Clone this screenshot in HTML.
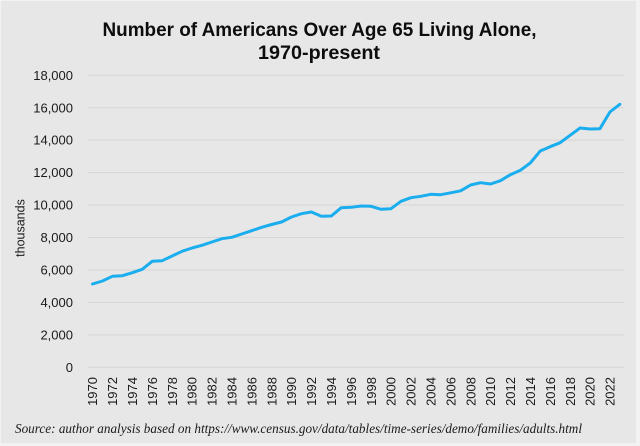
<!DOCTYPE html>
<html>
<head>
<meta charset="utf-8">
<style>
  html, body { margin: 0; padding: 0; background: #f2f2f2; }
  body { width: 640px; height: 446px; overflow: hidden; }
  svg { display: block; }
</style>
</head>
<body>
<svg width="640" height="446" viewBox="0 0 640 446" xmlns="http://www.w3.org/2000/svg">
  <rect x="0" y="0" width="640" height="446" fill="#f2f2f2"/>
  <rect x="1" y="1" width="635" height="442" fill="#e7e7e7"/>

  <!-- Title -->
  <text x="319.5" y="36" text-anchor="middle" font-family="Liberation Sans, Arial, sans-serif" font-weight="bold" font-size="19.5" fill="#0d0d0d" textLength="434" lengthAdjust="spacingAndGlyphs">Number of Americans Over Age 65 Living Alone,</text>
  <text x="319" y="59" text-anchor="middle" font-family="Liberation Sans, Arial, sans-serif" font-weight="bold" font-size="19.5" fill="#0d0d0d" textLength="122" lengthAdjust="spacingAndGlyphs">1970-present</text>

  <!-- Gridlines -->
  <g stroke="#d6d6d6" stroke-width="1">
    <line x1="88" y1="367.3" x2="624" y2="367.3"/>
    <line x1="88" y1="334.85" x2="624" y2="334.85"/>
    <line x1="88" y1="302.4" x2="624" y2="302.4"/>
    <line x1="88" y1="269.95" x2="624" y2="269.95"/>
    <line x1="88" y1="237.5" x2="624" y2="237.5"/>
    <line x1="88" y1="205.05" x2="624" y2="205.05"/>
    <line x1="88" y1="172.6" x2="624" y2="172.6"/>
    <line x1="88" y1="140.15" x2="624" y2="140.15"/>
    <line x1="88" y1="107.7" x2="624" y2="107.7"/>
    <line x1="88" y1="75.25" x2="624" y2="75.25"/>
  </g>

  <!-- Y tick labels -->
  <g font-family="Liberation Sans, Arial, sans-serif" font-size="13" fill="#1a1a1a" text-anchor="end">
    <text x="73" y="372">0</text>
    <text x="73" y="339.5">2,000</text>
    <text x="73" y="307">4,000</text>
    <text x="73" y="274.5">6,000</text>
    <text x="73" y="242">8,000</text>
    <text x="73" y="209.5">10,000</text>
    <text x="73" y="177">12,000</text>
    <text x="73" y="144.7">14,000</text>
    <text x="73" y="112.3">16,000</text>
    <text x="73" y="79.8">18,000</text>
  </g>

  <!-- Y axis title -->
  <text transform="translate(24.5,228) rotate(-90)" text-anchor="middle" font-family="Liberation Sans, Arial, sans-serif" font-size="12.5" fill="#1a1a1a">thousands</text>

  <!-- X tick labels -->
  <g font-family="Liberation Sans, Arial, sans-serif" font-size="13" fill="#1a1a1a" text-anchor="end">
    <text transform="translate(97.2,377) rotate(-90)">1970</text>
    <text transform="translate(117.1,377) rotate(-90)">1972</text>
    <text transform="translate(137.0,377) rotate(-90)">1974</text>
    <text transform="translate(156.9,377) rotate(-90)">1976</text>
    <text transform="translate(176.8,377) rotate(-90)">1978</text>
    <text transform="translate(196.7,377) rotate(-90)">1980</text>
    <text transform="translate(216.6,377) rotate(-90)">1982</text>
    <text transform="translate(236.5,377) rotate(-90)">1984</text>
    <text transform="translate(256.4,377) rotate(-90)">1986</text>
    <text transform="translate(276.3,377) rotate(-90)">1988</text>
    <text transform="translate(296.2,377) rotate(-90)">1990</text>
    <text transform="translate(316.1,377) rotate(-90)">1992</text>
    <text transform="translate(336.0,377) rotate(-90)">1994</text>
    <text transform="translate(355.9,377) rotate(-90)">1996</text>
    <text transform="translate(375.8,377) rotate(-90)">1998</text>
    <text transform="translate(395.7,377) rotate(-90)">2000</text>
    <text transform="translate(415.6,377) rotate(-90)">2002</text>
    <text transform="translate(435.5,377) rotate(-90)">2004</text>
    <text transform="translate(455.4,377) rotate(-90)">2006</text>
    <text transform="translate(475.3,377) rotate(-90)">2008</text>
    <text transform="translate(495.2,377) rotate(-90)">2010</text>
    <text transform="translate(515.1,377) rotate(-90)">2012</text>
    <text transform="translate(535.0,377) rotate(-90)">2014</text>
    <text transform="translate(554.9,377) rotate(-90)">2016</text>
    <text transform="translate(574.8,377) rotate(-90)">2018</text>
    <text transform="translate(594.7,377) rotate(-90)">2020</text>
    <text transform="translate(614.6,377) rotate(-90)">2022</text>
  </g>

  <!-- Data line -->
  <polyline fill="none" stroke="#1aaeef" stroke-width="3" stroke-linejoin="round" stroke-linecap="round"
    points="92.5,284 102.45,281 112.4,276.3 122.35,275.7 132.3,272.7 142.25,269.3 152.2,261.3 162.15,260.7 172.1,256 182.05,251.3 192,248 201.95,245.3 211.9,242 221.85,238.7 231.8,237.3 241.75,234 251.7,230.7 261.65,227.3 271.6,224.5 281.55,222 291.5,217 301.45,213.7 311.4,212 321.35,216.3 331.3,216 341.25,207.7 351.2,207.3 361.15,206 371.1,206.3 381.05,209.3 391,208.7 400.95,201.3 410.9,197.7 420.85,196.3 430.8,194.3 440.75,194.7 450.7,192.8 460.65,190.8 470.6,185 480.55,182.7 490.5,184 500.45,180.7 510.4,174.7 520.35,170.3 530.3,163 540.25,151 550.2,146.7 560.15,142.7 570.1,135.3 580.05,128 590,129 599.95,128.7 609.9,112 619.85,104.3"/>

  <!-- Source -->
  <text x="15" y="433" font-family="Liberation Serif, 'Times New Roman', serif" font-style="italic" font-size="14" fill="#1a1a1a" textLength="567" lengthAdjust="spacingAndGlyphs">Source: author analysis based on https://www.census.gov/data/tables/time-series/demo/families/adults.html</text>
</svg>
</body>
</html>
